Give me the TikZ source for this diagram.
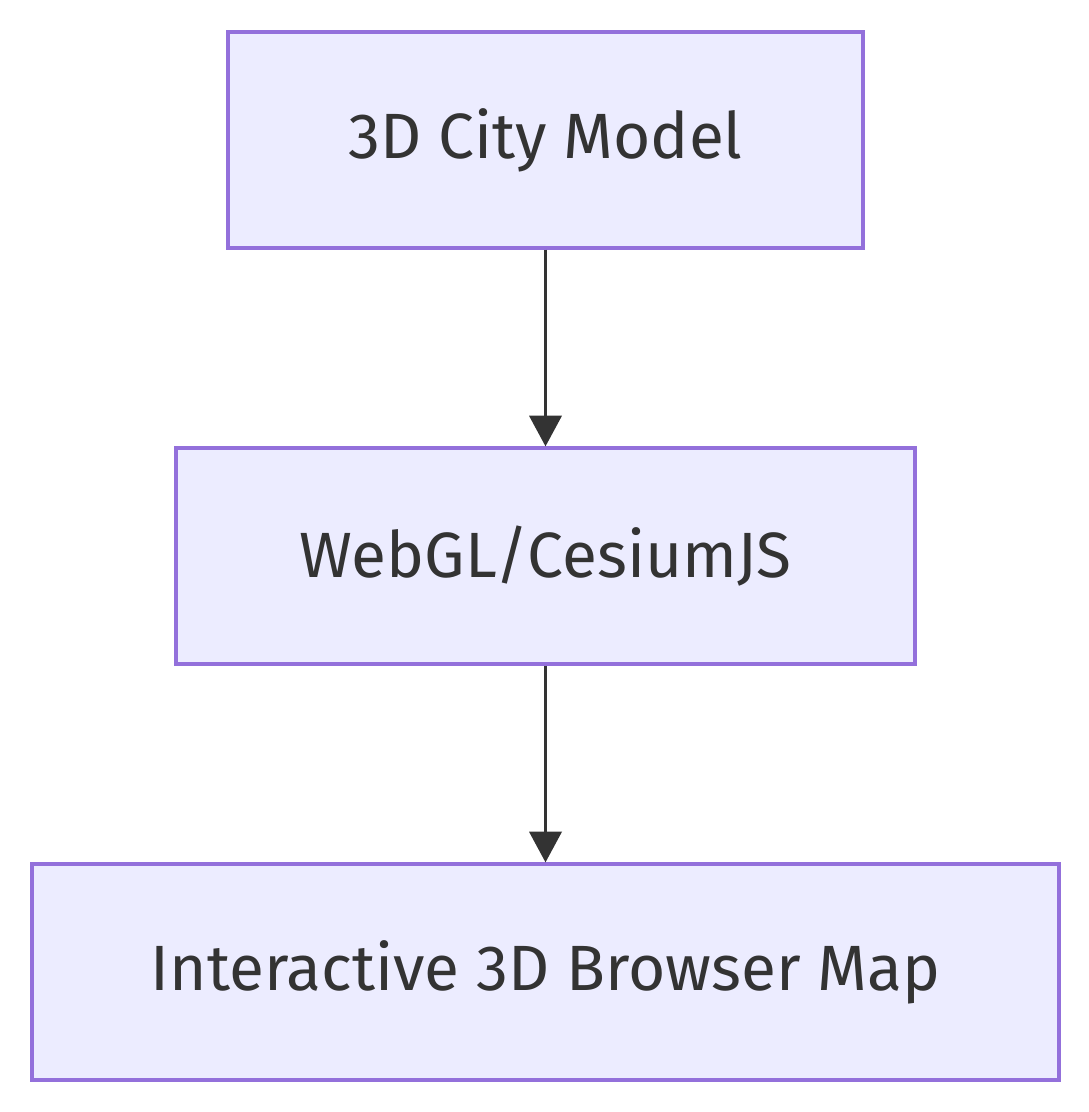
\documentclass[tikz,border=0pt]{standalone}
\usepackage{fontspec}
\setmainfont{Fira Sans}
\usetikzlibrary{arrows.meta}
\definecolor{boxfill}{HTML}{ECECFF}
\definecolor{boxline}{HTML}{9370DB}
\definecolor{ink}{HTML}{333333}
\begin{document}
\begin{tikzpicture}[x=0.75pt,y=-0.75pt,
  flowbox/.style={draw=boxline,fill=boxfill,line width=2.4pt,minimum height=162pt,inner sep=0pt,text=ink,font=\fontsize{48}{58}\selectfont},
  flowarrow/.style={draw=ink,line width=2.8pt,-{Triangle[length=23pt,width=24pt]}}]
\useasboundingbox (0,0) rectangle (1088,1112);
\node[flowbox,minimum width=476.25pt] (a) at (545.5,140) {3D City Model};
\node[flowbox,minimum width=554.25pt] (b) at (545.5,556) {WebGL/CesiumJS};
\node[flowbox,minimum width=770.25pt] (c) at (545.5,972) {Interactive 3D Browser Map};
\draw[flowarrow] (a) -- (b);
\draw[flowarrow] (b) -- (c);
\end{tikzpicture}
\end{document}
